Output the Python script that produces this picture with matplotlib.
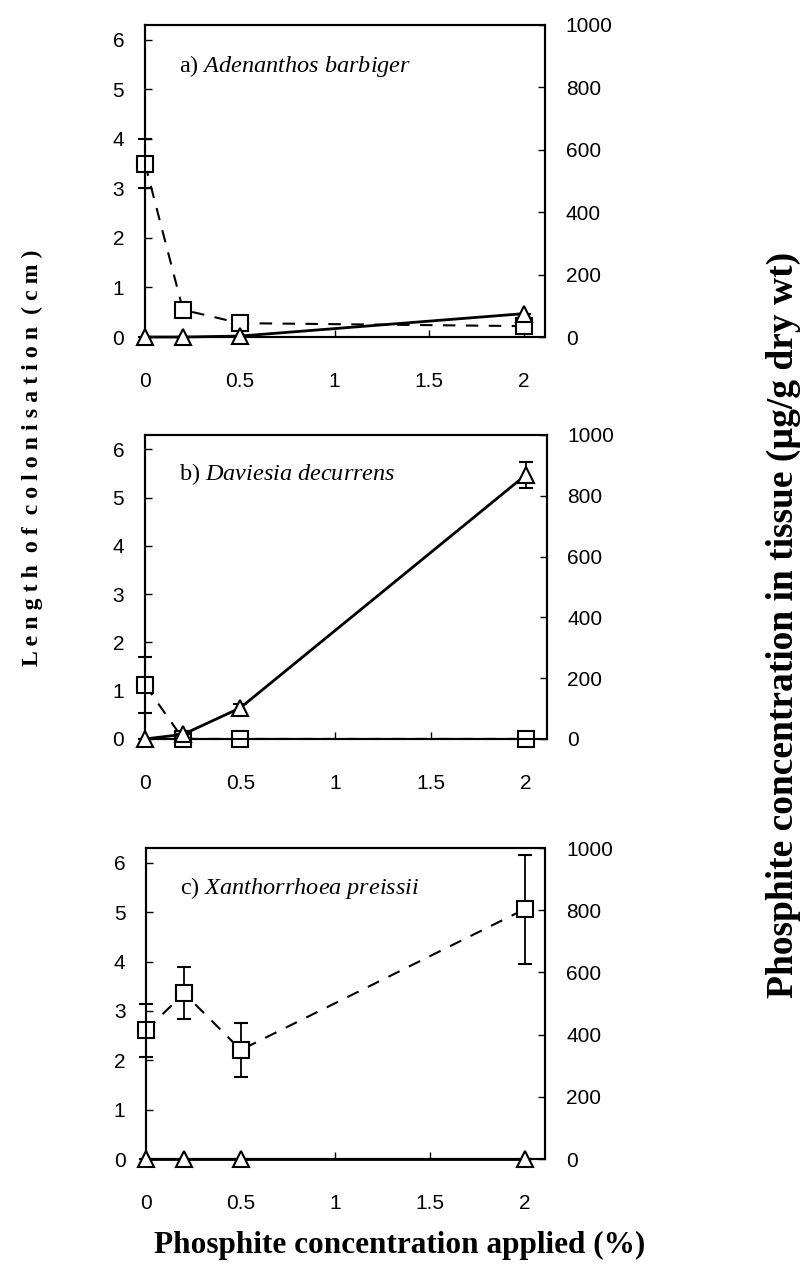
import matplotlib
matplotlib.use("Agg")
import matplotlib.pyplot as plt

plt.rcParams['mathtext.fontset'] = 'custom'
plt.rcParams['mathtext.rm'] = 'Liberation Serif'
plt.rcParams['mathtext.it'] = 'Liberation Serif:italic'

# applied phosphite (%)
x = [0, 0.2, 0.5, 2]

# length of colonisation (cm), squares, left axis
col_a = [3.5, 0.55, 0.28, 0.22]
col_a_err = [0.5, 0, 0, 0]
col_b = [1.12, 0.0, 0.0, 0.0]
col_b_err = [0.58, 0, 0, 0]
col_c = [2.61, 3.36, 2.21, 5.06]
col_c_err = [0.54, 0.52, 0.55, 1.1]

# phosphite in tissue (ug/g dry wt), triangles, right axis
tis_a = [0, 0, 3, 75]
tis_a_err = [0, 0, 0, 0]
tis_b = [0, 15, 102, 868]
tis_b_err = [0, 0, 12, 42]
tis_c = [0, 0, 0, 0]
tis_c_err = [0, 0, 0, 0]

titles = ["a) $\\mathit{Adenanthos\\ barbiger}$",
          "b) $\\mathit{Daviesia\\ decurrens}$",
          "c) $\\mathit{Xanthorrhoea\\ preissii}$"]
xticks = [0, 0.5, 1, 1.5, 2]
xticklabels = ["0", "0.5", "1", "1.5", "2"]
left_ticks = [0, 1, 2, 3, 4, 5, 6]
right_ticks = [0, 200, 400, 600, 800, 1000]

panels = [
    (col_a, col_a_err, tis_a, tis_a_err),
    (col_b, col_b_err, tis_b, tis_b_err),
    (col_c, col_c_err, tis_c, tis_c_err),
]
positions = [
    [0.1795, 0.7367, 0.495, 0.2438],
    [0.1795, 0.4227, 0.497, 0.2375],
    [0.1810, 0.0945, 0.494, 0.2430],
]

fig = plt.figure(figsize=(8.08, 12.8), dpi=100)
tickfont = "Liberation Sans"

for i in range(3):
    col, col_err, tis, tis_err = panels[i]
    ax = fig.add_axes(positions[i])
    ax2 = ax.twinx()

    # squares, colonisation
    ax.errorbar(x, col, yerr=col_err, color="black", lw=1.5, ls=(0, (6, 5)),
                marker="s", ms=11, mfc="white", mec="black", mew=1.5,
                capsize=5, elinewidth=1.3, capthick=1.5, clip_on=False,
                zorder=4)
    # triangles, phosphite in tissue
    ax2.errorbar(x, tis, yerr=tis_err, color="black", lw=2, marker="^",
                 ms=11, mfc="white", mec="black", mew=1.5, capsize=5,
                 elinewidth=1.3, capthick=1.5, clip_on=False, zorder=3)

    ax.set_xlim(0, 2.11)
    ax.set_ylim(0, 6.3)
    ax2.set_ylim(0, 1000)
    ax.set_xticks(xticks)
    ax.set_xticklabels(xticklabels)
    ax.set_yticks(left_ticks)
    ax2.set_yticks(right_ticks)

    ax.tick_params(axis="both", direction="in", length=5, width=1,
                   labelsize=15)
    ax.tick_params(axis="x", pad=25)
    ax.tick_params(axis="y", pad=15)
    ax2.tick_params(axis="y", direction="in", length=5, width=1,
                    labelsize=15, pad=15)
    for lab in ax.get_xticklabels() + ax.get_yticklabels() + ax2.get_yticklabels():
        lab.set_family(tickfont)
    for a in (ax, ax2):
        for s in a.spines.values():
            s.set_linewidth(1.5)

    ax.text(0.085, 0.87, titles[i], transform=ax.transAxes,
            family="Liberation Serif", fontsize=17.5, va="center", ha="left")

fig.text(0.040, 0.642,
         "L e n g t h  o f  c o l o n i s a t i o n  ( c m )",
         rotation=90, ha="center", va="center",
         family="Liberation Serif", fontweight="bold", fontsize=17.2)
fig.text(0.970, 0.512,
         "Phosphite concentration in tissue (\u00b5g/g dry wt)",
         rotation=90, ha="center", va="center",
         family="Liberation Serif", fontweight="bold", fontsize=27)
fig.text(0.495, 0.027, "Phosphite concentration applied (%)",
         ha="center", va="center",
         family="Liberation Serif", fontweight="bold", fontsize=22.5)

fig.savefig("out.png", dpi=100)
